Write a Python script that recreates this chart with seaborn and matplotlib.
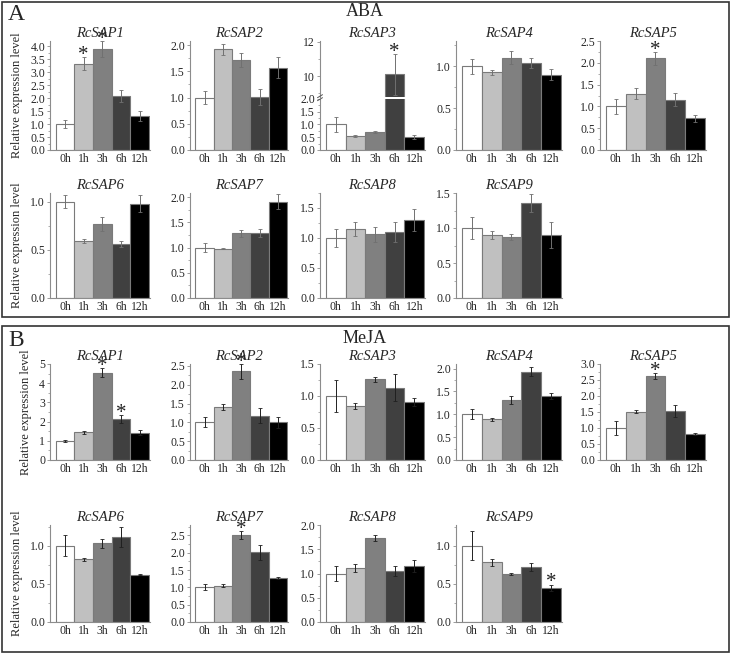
import matplotlib
matplotlib.use("Agg")
import matplotlib.pyplot as plt
import pandas as pd
import seaborn as sns
from matplotlib.lines import Line2D
from matplotlib.patches import Rectangle
from matplotlib.ticker import AutoMinorLocator, MultipleLocator

# ─────────────────────────────────────────────
# Data
# ─────────────────────────────────────────────
TIMES = ["0h", "1h", "3h", "6h", "12h"]
GENES = ["RcSAP1", "RcSAP2", "RcSAP3", "RcSAP4", "RcSAP5",
         "RcSAP6", "RcSAP7", "RcSAP8", "RcSAP9"]

# ABA treatment
aba_sap1 = [1.00, 3.33, 3.90, 2.08, 1.32]
aba_sap1_err = [0.17, 0.25, 0.30, 0.22, 0.20]
aba_sap2 = [1.00, 1.92, 1.72, 1.01, 1.57]
aba_sap2_err = [0.13, 0.10, 0.13, 0.15, 0.20]
aba_sap3 = [1.00, 0.55, 0.70, 10.10, 0.50]
aba_sap3_err = [0.30, 0.03, 0.03, 1.20, 0.07]
aba_sap4 = [1.00, 0.93, 1.10, 1.04, 0.90]
aba_sap4_err = [0.09, 0.03, 0.08, 0.06, 0.07]
aba_sap5 = [1.00, 1.29, 2.10, 1.15, 0.73]
aba_sap5_err = [0.17, 0.13, 0.15, 0.15, 0.08]
aba_sap6 = [1.00, 0.59, 0.77, 0.56, 0.98]
aba_sap6_err = [0.07, 0.02, 0.07, 0.03, 0.09]
aba_sap7 = [1.00, 0.98, 1.28, 1.28, 1.91]
aba_sap7_err = [0.08, 0.01, 0.07, 0.08, 0.15]
aba_sap8 = [1.00, 1.15, 1.06, 1.10, 1.30]
aba_sap8_err = [0.15, 0.12, 0.13, 0.16, 0.19]
aba_sap9 = [1.00, 0.90, 0.87, 1.36, 0.90]
aba_sap9_err = [0.16, 0.06, 0.04, 0.13, 0.18]

# MeJA treatment
meja_sap1 = [1.00, 1.45, 4.55, 2.15, 1.42]
meja_sap1_err = [0.06, 0.08, 0.22, 0.20, 0.12]
meja_sap2 = [1.00, 1.42, 2.36, 1.18, 1.00]
meja_sap2_err = [0.13, 0.08, 0.20, 0.20, 0.14]
meja_sap3 = [1.00, 0.84, 1.26, 1.13, 0.91]
meja_sap3_err = [0.25, 0.05, 0.04, 0.21, 0.06]
meja_sap4 = [1.00, 0.89, 1.32, 1.93, 1.40]
meja_sap4_err = [0.11, 0.03, 0.09, 0.10, 0.06]
meja_sap5 = [1.00, 1.51, 2.63, 1.52, 0.80]
meja_sap5_err = [0.22, 0.04, 0.10, 0.19, 0.03]
meja_sap6 = [1.00, 0.82, 1.03, 1.11, 0.62]
meja_sap6_err = [0.14, 0.02, 0.06, 0.13, 0.01]
meja_sap7 = [1.01, 1.05, 2.51, 2.01, 1.28]
meja_sap7_err = [0.10, 0.05, 0.12, 0.22, 0.03]
meja_sap8 = [1.00, 1.11, 1.74, 1.05, 1.15]
meja_sap8_err = [0.15, 0.08, 0.06, 0.10, 0.12]
meja_sap9 = [1.00, 0.78, 0.63, 0.72, 0.45]
meja_sap9_err = [0.19, 0.05, 0.01, 0.05, 0.04]

# significance marks (time points with *)
aba_stars = {"RcSAP1": ["1h", "3h"], "RcSAP3": ["6h"], "RcSAP5": ["3h"]}
meja_stars = {"RcSAP1": ["3h", "6h"], "RcSAP2": ["3h"], "RcSAP5": ["3h"],
              "RcSAP7": ["3h"], "RcSAP9": ["12h"]}

ABA = {
    "RcSAP1": (aba_sap1, aba_sap1_err), "RcSAP2": (aba_sap2, aba_sap2_err),
    "RcSAP3": (aba_sap3, aba_sap3_err), "RcSAP4": (aba_sap4, aba_sap4_err),
    "RcSAP5": (aba_sap5, aba_sap5_err), "RcSAP6": (aba_sap6, aba_sap6_err),
    "RcSAP7": (aba_sap7, aba_sap7_err), "RcSAP8": (aba_sap8, aba_sap8_err),
    "RcSAP9": (aba_sap9, aba_sap9_err),
}
MEJA = {
    "RcSAP1": (meja_sap1, meja_sap1_err), "RcSAP2": (meja_sap2, meja_sap2_err),
    "RcSAP3": (meja_sap3, meja_sap3_err), "RcSAP4": (meja_sap4, meja_sap4_err),
    "RcSAP5": (meja_sap5, meja_sap5_err), "RcSAP6": (meja_sap6, meja_sap6_err),
    "RcSAP7": (meja_sap7, meja_sap7_err), "RcSAP8": (meja_sap8, meja_sap8_err),
    "RcSAP9": (meja_sap9, meja_sap9_err),
}

# ─────────────────────────────────────────────
# Styling / layout
# ─────────────────────────────────────────────
BAR_COLORS = ["#ffffff", "#c0c0c0", "#808080", "#404040", "#000000"]
SPINE = "#8c8c8c"

# (ymax, major step) per panel
ABA_AXES = {
    "RcSAP1": (4.2, 0.5), "RcSAP2": (2.08, 0.5), "RcSAP4": (1.3, 0.5),
    "RcSAP5": (2.5, 0.5), "RcSAP6": (1.09, 0.5), "RcSAP7": (2.08, 0.5),
    "RcSAP8": (1.75, 0.5), "RcSAP9": (1.5, 0.5),
}
MEJA_AXES = {
    "RcSAP1": (5.0, 1.0), "RcSAP2": (2.55, 0.5), "RcSAP3": (1.5, 0.5),
    "RcSAP4": (2.1, 0.5), "RcSAP5": (3.0, 0.5), "RcSAP6": (1.27, 0.5),
    "RcSAP7": (2.8, 0.5), "RcSAP8": (2.0, 0.5), "RcSAP9": (1.27, 0.5),
}

W, H = 731, 654
COLS = [(50, 150), (190, 288), (320, 425), (456, 562), (600, 706)]
ROWS_A = [(41, 150), (193, 298)]
ROWS_B = [(364, 460), (525, 622)]

TICK_FS = 8.5
TITLE_FS = 10.5

sns.set_style("ticks")
plt.rcParams["font.family"] = ["Liberation Serif", "DejaVu Serif"]
plt.rcParams["axes.linewidth"] = 0.8

fig = plt.figure(figsize=(W / 100, H / 100), dpi=100)


def add_ax(left, top, right, bottom):
    return fig.add_axes([left / W, 1 - bottom / H, (right - left) / W, (bottom - top) / H])


def style_ax(ax, ymin, ymax, step, show_x=True):
    ax.set_xlim(-0.8, 4.55)
    ax.set_ylim(ymin, ymax)
    ax.yaxis.set_major_locator(MultipleLocator(step))
    ax.yaxis.set_minor_locator(AutoMinorLocator(2))
    if step >= 1:
        ax.yaxis.set_major_formatter(plt.FuncFormatter(lambda v, p: f"{v:.0f}"))
    else:
        ax.yaxis.set_major_formatter(plt.FuncFormatter(lambda v, p: f"{v:.1f}"))
    ax.set_xlabel("")
    ax.set_ylabel("")
    for s in ["top", "right"]:
        ax.spines[s].set_visible(False)
    for s in ["left", "bottom"]:
        ax.spines[s].set_color(SPINE)
        ax.spines[s].set_linewidth(0.8)
    ax.tick_params(axis="y", which="major", length=2.5, width=0.6, color=SPINE,
                   labelsize=TICK_FS, pad=1)
    ax.tick_params(axis="y", which="minor", length=1.3, width=0.5, color=SPINE)
    ax.tick_params(axis="x", length=0, labelsize=TICK_FS, pad=2)
    if not show_x:
        ax.spines["bottom"].set_visible(False)
        ax.tick_params(axis="x", labelbottom=False)
    ax.set_facecolor("none")


def draw_bars(ax, means, errs, ecolor):
    df = pd.DataFrame({"time": TIMES, "value": means})
    sns.barplot(data=df, x="time", y="value", hue="time", order=TIMES,
                hue_order=TIMES, palette=BAR_COLORS, saturation=1, width=1.0,
                edgecolor="#7a7a7a", linewidth=0.8, legend=False, ax=ax)
    ax.errorbar(range(len(TIMES)), means, yerr=errs, fmt="none", ecolor=ecolor,
                elinewidth=0.7, capsize=1.3, capthick=0.6)


def draw_stars(ax, means, errs, stars, ymax):
    for t in stars:
        i = TIMES.index(t)
        ax.text(i, means[i] + errs[i] - 0.03 * ymax, "*", ha="center",
                va="baseline", fontsize=15, color="#222222")


def panel(gene, means, errs, axcfg, stars, rect, ecolor, ylab):
    left, top, right, bottom = rect
    ymax, step = axcfg
    ax = add_ax(left, top, right, bottom)
    draw_bars(ax, means, errs, ecolor)
    style_ax(ax, 0, ymax, step)
    draw_stars(ax, means, errs, stars, ymax)
    ax.set_title(gene, fontsize=TITLE_FS, style="italic", pad=3)
    if ylab:
        ax.set_ylabel("Relative expression level", fontsize=9, labelpad=5)
    return ax


def broken_panel(gene, means, errs, stars, rect, ecolor):
    left, top, right, bottom = rect
    mid = top + (bottom - top) * 0.52
    ax_top = add_ax(left, top, right, mid - 1)
    ax_bot = add_ax(left, mid + 1, right, bottom)
    draw_bars(ax_top, means, errs, ecolor)
    draw_bars(ax_bot, means, errs, ecolor)
    style_ax(ax_top, 8.8, 12.05, 2.0, show_x=False)
    ax_top.yaxis.set_minor_locator(MultipleLocator(1.0))
    ax_top.yaxis.set_major_formatter(plt.FuncFormatter(lambda v, p: f"{v:.0f}"))
    style_ax(ax_bot, 0, 2.0, 0.5)
    draw_stars(ax_top, means, errs, stars, 6.5)
    ax_top.set_title(gene, fontsize=TITLE_FS, style="italic", pad=3)
    # break marks on the y axis
    x0 = left / W
    for yy in (mid - 1.5, mid + 1.5):
        fig.add_artist(Line2D([x0 - 2.5 / W, x0 + 2.5 / W],
                              [1 - (yy + 1.5) / H, 1 - (yy - 1.5) / H],
                              transform=fig.transFigure, color="#555555", lw=0.7))


def treatment(data, axes_cfg, stars, rows, ecolor, broken=None):
    for k, gene in enumerate(GENES):
        r, c = divmod(k, 5)
        top, bottom = rows[r]
        left, right = COLS[c]
        means, errs = data[gene]
        if gene == broken:
            broken_panel(gene, means, errs, stars.get(gene, []),
                         (left, top, right, bottom), ecolor)
        else:
            panel(gene, means, errs, axes_cfg[gene], stars.get(gene, []),
                  (left, top, right, bottom), ecolor, c == 0)


treatment(ABA, ABA_AXES, aba_stars, ROWS_A, "#707070", broken="RcSAP3")
treatment(MEJA, MEJA_AXES, meja_stars, ROWS_B, "#202020")

# frames and headings
for (y0, y1) in [(2, 317), (326, 652)]:
    fig.add_artist(Rectangle((2 / W, 1 - y1 / H), (W - 4) / W, (y1 - y0) / H,
                             transform=fig.transFigure, fill=False,
                             edgecolor="#333333", lw=1.2))
fig.text(8 / W, 1 - 15 / H, "A", fontsize=17, va="center", ha="left")
fig.text(365 / W, 1 - 12 / H, "ABA", fontsize=13, va="center", ha="center")
fig.text(8 / W, 1 - 341 / H, "B", fontsize=17, va="center", ha="left")
fig.text(365 / W, 1 - 338 / H, "MeJA", fontsize=13, va="center", ha="center")

fig.savefig("out.png", dpi=100, facecolor="white")
